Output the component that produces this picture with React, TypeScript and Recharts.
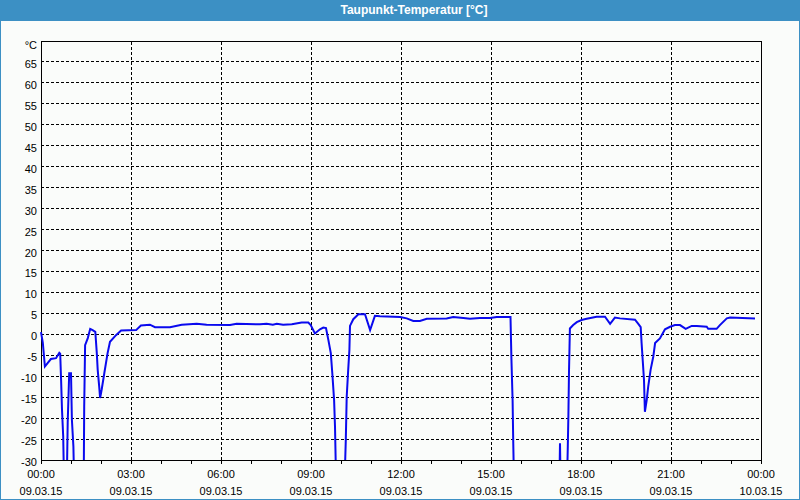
import { LineChart, Line, XAxis, YAxis, CartesianGrid, ReferenceLine, ReferenceArea } from 'recharts'

// hours since 09.03.15 00:00 and dew point in °C (values below -30 run off the chart)
const hours = [
  0.00, 0.06, 0.13, 0.22, 0.33, 0.50, 0.61, 0.64, 0.67, 0.70, 0.74, 0.78, 0.82, 0.85, 0.89, 0.94, 1.00, 1.03, 1.08, 1.12,
  1.42, 1.44, 1.47, 1.56, 1.64, 1.72, 1.81, 1.86, 1.89, 1.94, 1.97, 2.02, 2.11, 2.22, 2.30, 2.50, 2.67, 3.17, 3.33, 3.63,
  3.80, 4.30, 4.69, 5.19, 5.52, 6.30, 6.52, 7.30, 7.52, 7.73, 7.86, 8.07, 8.36, 8.69, 8.91, 8.99, 9.13, 9.30, 9.41, 9.50,
  9.58, 9.66, 9.71, 9.77, 9.80, 9.85, 10.10, 10.16, 10.19, 10.24, 10.28, 10.30, 10.41, 10.58, 10.80, 10.97, 11.13, 11.30, 11.97, 12.19,
  12.41, 12.63, 12.86, 13.52, 13.74, 14.08, 14.30, 14.63, 14.97, 15.19, 15.65, 15.68, 15.72, 15.74, 15.78, 17.27, 17.30, 17.33, 17.52, 17.56,
  17.58, 17.60, 17.63, 17.74, 17.86, 18.02, 18.19, 18.52, 18.80, 18.97, 19.13, 19.30, 19.80, 19.91, 19.99, 20.02, 20.06, 20.10, 20.13, 20.19,
  20.24, 20.32, 20.41, 20.47, 20.63, 20.80, 20.97, 21.13, 21.30, 21.49, 21.69, 21.86, 22.19, 22.24, 22.52, 22.63, 22.86, 22.97, 23.80,
]
const dewPoint = [
  0.5, -2, -7.7, -6.9, -5.9, -5.7, -4.4, -4.6, -10.9, -18, -24.4, -40, -40, -40, -21, -9.3, -9.3, -20.4, -26.8, -40,
  -40, -17.3, -2.6, -0.9, 1.3, 1.0, 0.6, -4.5, -8.5, -12.5, -15.2, -13.3, -9.3, -4.5, -1.8, -0.2, 0.9, 1.0, 2.1, 2.3,
  1.7, 1.7, 2.3, 2.5, 2.3, 2.2, 2.5, 2.4, 2.5, 2.3, 2.5, 2.3, 2.4, 2.8, 2.8, 2.2, 0.2, 1.2, 1.6, 1.5,
  -1.4, -4.5, -9.3, -15.7, -22, -40, -40, -25.2, -14.9, -8.5, -3.7, 2, 3.6, 4.8, 4.8, 1.0, 4.4, 4.3, 4.1, 3.8,
  3.2, 3.2, 3.7, 3.8, 4.1, 3.9, 3.7, 3.9, 3.9, 4.1, 4.1, -5.7, -15.7, -25.2, -40, -40, -26, -40, -40, -26.8,
  -19.3, -8.9, 1.4, 2.2, 2.9, 3.4, 3.7, 4.2, 4.2, 2.5, 4.0, 3.8, 3.5, 2.5, 1.7, -2.1, -6.5, -10.9, -18.5, -15.7,
  -12.5, -8.5, -5.3, -2.1, -1, 1.2, 1.8, 2.2, 2.2, 1.3, 2.0, 2.0, 1.8, 1.3, 1.3, 2.2, 3.8, 4.0, 3.8,
]

const xTicks = Array.from({ length: 25 }, (_, i) => i)
const gridHours = [3, 6, 9, 12, 15, 18, 21]
const timeLabels = ['00:00', '03:00', '06:00', '09:00', '12:00', '15:00', '18:00', '21:00', '00:00']
const dateLabels = ['09.03.15', '09.03.15', '09.03.15', '09.03.15', '09.03.15', '09.03.15', '09.03.15', '09.03.15', '10.03.15']
const yTicks = [-30, -25, -20, -15, -10, -5, 0, 5, 10, 15, 20, 25, 30, 35, 40, 45, 50, 55, 60, 65, 70]

const data = hours.map((h, i) => ({ h, v: dewPoint[i] }))

const FONT = '"Liberation Sans", Arial, sans-serif'

function TimeTick({ x, y, payload }: any) {
  const h = payload.value as number
  if (h % 3 !== 0) return null
  const i = h / 3
  return (
    <g>
      <text x={x} y={y + 12} textAnchor="middle" fontSize={11} fontFamily={FONT} fill="#000">{timeLabels[i]}</text>
      <text x={x} y={y + 29} textAnchor="middle" fontSize={11} fontFamily={FONT} fill="#000">{dateLabels[i]}</text>
    </g>
  )
}

function ValueTick({ x, y, payload }: any) {
  const v = payload.value as number
  return (
    <text x={x} y={y + (v === 70 ? 8 : 6)} textAnchor="end" fontSize={11} fontFamily={FONT} fill="#000">
      {v === 70 ? '°C' : v}
    </text>
  )
}

export default function App() {
  return (
    <div style={{ position: 'absolute', left: 0, top: 0, width: 800, height: 500, background: '#fafcfa', boxSizing: 'border-box', border: '1px solid #3c90c4', borderTop: 'none' }}>
      <div style={{ height: 21, background: '#3c90c4', color: '#fff', fontFamily: FONT, fontWeight: 'bold', fontSize: 12, lineHeight: '20px', textAlign: 'center', paddingLeft: 28 }}>
        Taupunkt-Temperatur [°C]
      </div>
      <div style={{ position: 'absolute', left: -1, top: 0 }}>
        <LineChart width={800} height={500} data={data} margin={{ top: 41, right: 39, bottom: 0, left: 1 }}>
          <CartesianGrid vertical={false} stroke="#000" strokeDasharray="3 2" shapeRendering="crispEdges" />
          {gridHours.map(h => (
            <ReferenceLine key={h} x={h} stroke="#000" strokeDasharray="3 2" shapeRendering="crispEdges" />
          ))}
          <XAxis dataKey="h" type="number" domain={[0, 24]} ticks={xTicks} interval={0} height={40}
            tick={<TimeTick />} tickSize={4} tickMargin={2} stroke="#000" axisLine={false} shapeRendering="crispEdges" />
          <YAxis type="number" domain={[-30, 70]} ticks={yTicks} interval={0} allowDataOverflow width={40}
            tick={<ValueTick />} tickLine={false} tickSize={0} tickMargin={4} axisLine={false} />
          <ReferenceArea x1={0} x2={24} y1={-30} y2={70} fill="none" stroke="#000" strokeWidth={1} shapeRendering="crispEdges" />
          <Line type="linear" dataKey="v" stroke="#0a0aee" strokeWidth={2} dot={false} isAnimationActive={false} />
        </LineChart>
      </div>
    </div>
  )
}
